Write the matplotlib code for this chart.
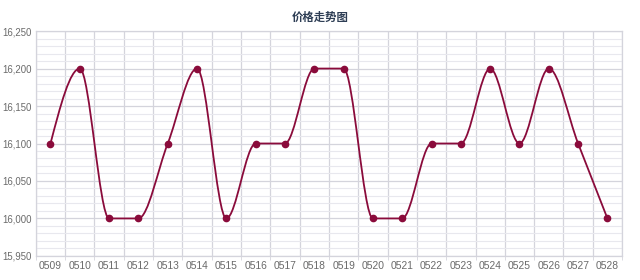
import numpy as np
import matplotlib.pyplot as plt
from matplotlib.path import Path
from matplotlib.patches import PathPatch
from matplotlib.ticker import MultipleLocator, FuncFormatter

# data
dates = ['0509', '0510', '0511', '0512', '0513', '0514', '0515', '0516', '0517', '0518',
         '0519', '0520', '0521', '0522', '0523', '0524', '0525', '0526', '0527', '0528']
prices = [16100, 16200, 16000, 16000, 16100, 16200, 16000, 16100, 16100, 16200,
          16200, 16000, 16000, 16100, 16100, 16200, 16100, 16200, 16100, 16000]

line_color = '#8a0b3b'
grid_color = '#d4d4dc'
minor_color = '#e8e8ee'
label_color = '#6a6a6a'


def monotone_tangents(x, y):
    # same rule as a monotone cubic (d3 monotoneX)
    n = len(x)
    h = np.diff(x)
    s = np.diff(y) / h
    t = np.zeros(n)
    for i in range(1, n - 1):
        p = (s[i - 1] * h[i] + s[i] * h[i - 1]) / (h[i - 1] + h[i])
        t[i] = (np.sign(s[i - 1]) + np.sign(s[i])) * min(abs(s[i - 1]), abs(s[i]), 0.5 * abs(p))
    t[0] = (3 * s[0] - t[1]) / 2
    t[-1] = (3 * s[-1] - t[-2]) / 2
    return t


x = np.arange(len(dates), dtype=float)
y = np.array(prices, dtype=float)
tan = monotone_tangents(x, y)

verts = [(x[0], y[0])]
codes = [Path.MOVETO]
for i in range(len(x) - 1):
    dx = (x[i + 1] - x[i]) / 3
    verts += [(x[i] + dx, y[i] + tan[i] * dx),
              (x[i + 1] - dx, y[i + 1] - tan[i + 1] * dx),
              (x[i + 1], y[i + 1])]
    codes += [Path.CURVE4] * 3

fig = plt.figure(figsize=(6.4, 2.8), dpi=100)
ax = fig.add_axes([0.056, 0.086, 0.916, 0.803])

ax.add_patch(PathPatch(Path(verts, codes), fill=False, edgecolor=line_color, lw=1.3, zorder=3))
ax.plot(x, y, 'o', color=line_color, markersize=4.5, zorder=4)

ax.set_xlim(-0.5, len(dates) - 0.5)
ax.set_ylim(15950, 16250)

ax.set_xticks(x)
ax.set_xticklabels(dates)
ax.set_xticks(np.arange(len(dates) + 1) - 0.5, minor=True)
ax.tick_params(axis='x', which='major', length=0, pad=4, labelsize=7.4, labelcolor=label_color)
ax.tick_params(axis='x', which='minor', length=3, color=grid_color)

ax.yaxis.set_major_locator(MultipleLocator(50))
ax.yaxis.set_minor_locator(MultipleLocator(10))
ax.yaxis.set_major_formatter(FuncFormatter(lambda v, p: f'{v:,.0f}'))
ax.tick_params(axis='y', which='both', length=0, pad=3, labelsize=6.9, labelcolor=label_color)

for lab in ax.get_xticklabels() + ax.get_yticklabels():
    lab.set_family('Liberation Sans')

ax.grid(True, axis='y', which='major', color=grid_color, lw=0.9)
ax.grid(True, axis='y', which='minor', color=minor_color, lw=0.8)
ax.grid(True, axis='x', which='minor', color=grid_color, lw=0.9)
ax.set_axisbelow(True)

for sp in ax.spines.values():
    sp.set_color(grid_color)
    sp.set_linewidth(0.9)

fig.text(0.5, 0.938, '价格走势图', ha='center', va='center', fontsize=8.2, fontweight='bold',
         color='#2e3e55', family=['Noto Sans CJK SC', 'DejaVu Sans'])

fig.savefig('out.png', dpi=100)
